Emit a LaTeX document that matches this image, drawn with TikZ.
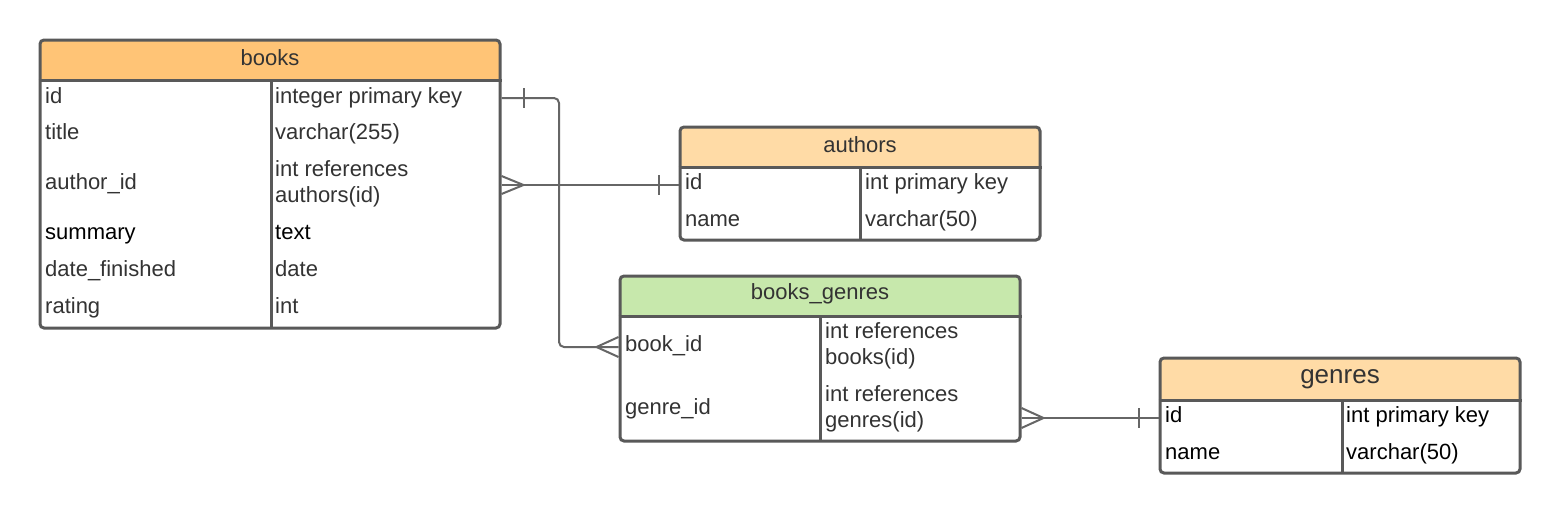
\documentclass[tikz,border=0pt]{standalone}
\usepackage{fontspec}
\setmainfont{Liberation Sans}
\usetikzlibrary{fit}
\definecolor{hdrA}{RGB}{255,196,118}
\definecolor{hdrB}{RGB}{255,219,166}
\definecolor{hdrG}{RGB}{199,232,172}
\definecolor{bordc}{RGB}{89,89,89}
\definecolor{linec}{RGB}{102,102,102}
\definecolor{txt}{RGB}{51,51,51}
\newcommand\ertable[8]{%
  \fill[#8, rounded corners=4pt] (#2,#3) rectangle (#4,#6);
  \fill[#8] (#2,{#3+8}) rectangle (#4,#6);
  \node[fit={(#2,#3) (#4,#5)}, inner sep=0pt, frame] (#1) {};
  \draw[sep] (#1.west |- 0,#6) -- (#1.east |- 0,#6);
  \draw[sep] (#7,#6) -- (#7,#5);
}
\begin{document}
\begin{tikzpicture}[x=1pt,y=-1pt,
  frame/.style={draw=bordc, line width=3pt, rounded corners=4pt},
  sep/.style={draw=bordc, line width=3pt},
  conn/.style={draw=linec, line width=2pt},
  cell/.style={anchor=west, inner sep=0pt, text height=18pt, text depth=4pt, font=\fontsize{22}{26}\selectfont, text=txt},
  mcell/.style={anchor=west, inner sep=0pt, yshift=-2pt, font=\fontsize{22}{26}\selectfont, text=txt, align=left},
  blk/.style={cell, text=black},
  hdr/.style={inner sep=0pt, font=\fontsize{22}{26}\selectfont, text=txt},
  bighdr/.style={hdr, font=\fontsize{26}{30}\selectfont}]
\useasboundingbox (0,0) rectangle (1560,514);
\fill[white] (0,0) rectangle (1560,514);

% books
\ertable{books}{40}{40}{500}{328}{80}{271}{hdrA}
\node[hdr] (books-t) at (270,58) {books};
\node[cell] (books-id) at (45,96) {id};
\node[cell] (books-idt) at (275,96) {integer primary key};
\node[cell] (books-title) at (45,132) {title};
\node[cell] (books-titlet) at (275,132) {varchar(255)};
\node[cell] (books-aid) at (45,182) {author\_id};
\node[mcell] (books-aidt) at (275,182) {int references\\authors(id)};
\node[blk] (books-sum) at (45,232) {summary};
\node[blk] (books-sumt) at (275,232) {text};
\node[cell] (books-df) at (45,269) {date\_finished};
\node[cell] (books-dft) at (275,269) {date};
\node[cell] (books-rt) at (45,306) {rating};
\node[cell] (books-rtt) at (275,306) {int};

% authors
\ertable{authors}{680}{127}{1040}{240}{167}{860}{hdrB}
\node[hdr] (authors-t) at (860,145) {authors};
\node[cell] (authors-id) at (685,182) {id};
\node[cell] (authors-idt) at (865,182) {int primary key};
\node[cell] (authors-nm) at (685,219) {name};
\node[cell] (authors-nmt) at (865,219) {varchar(50)};

% books_genres
\ertable{bg}{620}{276}{1020}{441}{316}{820}{hdrG}
\node[hdr] (bg-t) at (820,294) {books\_genres};
\node[cell] (bg-bid) at (625,344) {book\_id};
\node[mcell] (bg-bidt) at (825,344) {int references\\books(id)};
\node[cell] (bg-gid) at (625,407) {genre\_id};
\node[mcell] (bg-gidt) at (825,407) {int references\\genres(id)};

% genres
\ertable{genres}{1160}{358}{1520}{473}{400}{1342}{hdrB}
\node[bighdr] (genres-t) at (1340,379) {genres};
\node[blk] (genres-id) at (1165,415) {id};
\node[blk] (genres-idt) at (1346,415) {int primary key};
\node[blk] (genres-nm) at (1165,452) {name};
\node[blk] (genres-nmt) at (1346,452) {varchar(50)};

% connector books.id -> books_genres.book_id
\coordinate (c1s) at ([yshift=-2pt]books.east |- books-id.west);
\coordinate (c1e) at ([yshift=-3pt]bg.west |- bg-bid.west);
\draw[conn, rounded corners=5pt] (c1s) -- (559,98) -- (559,347) -- (c1e);
\draw[conn] (c1s) ++(22,-10) -- ++(0,20);
\draw[conn] (c1e) ++(-22,0) -- ++(22,-10);
\draw[conn] (c1e) ++(-22,0) -- ++(22,10);

% connector books.author_id -> authors.id
\coordinate (c2s) at ([yshift=-3pt]books.east |- books-aid.west);
\coordinate (c2e) at ([yshift=-3pt]authors.west |- authors-id.west);
\draw[conn] (c2s) -- (c2e);
\draw[conn] (c2s) ++(22,0) -- ++(-22,-9);
\draw[conn] (c2s) ++(22,0) -- ++(-22,9);
\draw[conn] (c2e) ++(-20,-10) -- ++(0,20);

% connector books_genres.genre_id -> genres.id
\coordinate (c3s) at ([yshift=-11pt]bg.east |- bg-gid.west);
\coordinate (c3e) at ([yshift=-3pt]genres.west |- genres-id.west);
\draw[conn] (c3s) -- (c3e);
\draw[conn] (c3s) ++(22,0) -- ++(-22,-10);
\draw[conn] (c3s) ++(22,0) -- ++(-22,10);
\draw[conn] (c3e) ++(-20,-10) -- ++(0,20);
\end{tikzpicture}
\end{document}
